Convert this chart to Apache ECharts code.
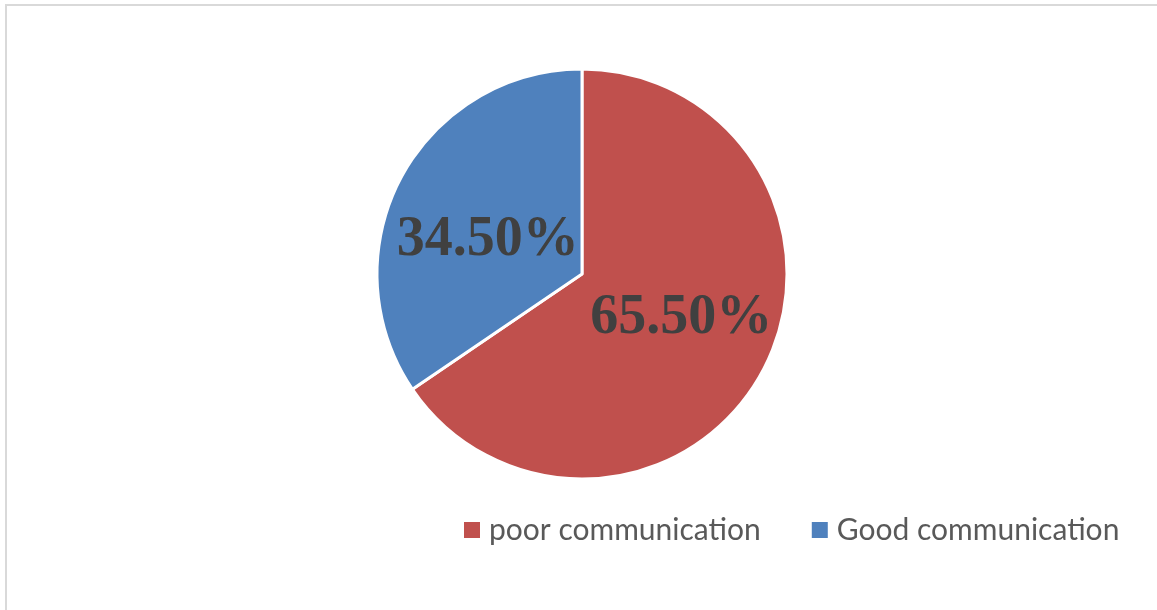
<!DOCTYPE html>
<html>
<head>
<meta charset="utf-8">
<script src="https://cdn.jsdelivr.net/npm/echarts@6/dist/echarts.min.js"></script>
<style>
  html, body { margin: 0; padding: 0; background: #fff; }
  #chart { width: 1157px; height: 610px; }
</style>
</head>
<body>
<div id="chart"></div>
<script>
const categories = ['poor communication', 'Good communication']
const values = [65.5, 34.5]
const colors = ['#c0504d', '#4f81bd']
const labelOffsets = [[6, -5], [-1, 16]]

const chart = echarts.init(document.getElementById('chart'), null, {renderer: 'canvas'})

chart.setOption({
  animation: false,
  graphic: [{
    type: 'rect',
    shape: {x: 6, y: 5, width: 1200, height: 700},
    style: {fill: 'none', stroke: '#d9d9d9', lineWidth: 2}
  }],
  legend: {
    data: categories,
    left: 457,
    top: 510,
    itemWidth: 18,
    itemHeight: 18,
    itemGap: 49,
    icon: 'rect',
    textStyle: {fontFamily: 'Lato', fontSize: 30, color: '#595959', padding: [0, 0, 0, 3]}
  },
  series: [{
    type: 'pie',
    center: [582, 274],
    radius: 205,
    startAngle: 90,
    clockwise: true,
    itemStyle: {borderColor: '#fff', borderWidth: 3},
    label: {
      position: 'inside',
      formatter: p => p.value.toFixed(2) + '%',
      fontFamily: 'Liberation Serif',
      fontWeight: 'bold',
      fontSize: 56,
      color: '#404040'
    },
    labelLine: {show: false},
    data: categories.map((name, i) => ({
      name,
      value: values[i],
      itemStyle: {color: colors[i]},
      label: {offset: labelOffsets[i]}
    }))
  }]
})
</script>
</body>
</html>
